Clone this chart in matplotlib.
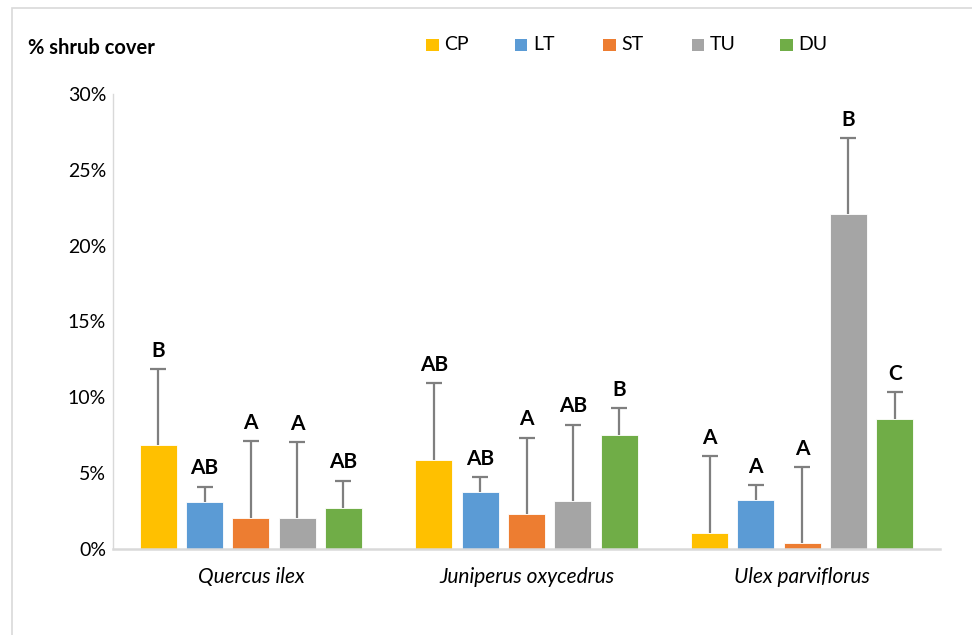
import matplotlib
matplotlib.use("Agg")
import matplotlib.pyplot as plt
import numpy as np
from matplotlib.patches import Rectangle
from matplotlib.ticker import FuncFormatter

plt.rcParams['font.family'] = ['Lato', 'DejaVu Sans']

species = ["Quercus ilex", "Juniperus oxycedrus", "Ulex parviflorus"]
treatments = ["CP", "LT", "ST", "TU", "DU"]
colors = ["#FFC000", "#5B9BD5", "#ED7D31", "#A5A5A5", "#70AD47"]

# mean shrub cover (%) per treatment, one value per species
cp = [6.85, 5.9, 1.05]
lt = [3.1, 3.75, 3.2]
st = [2.05, 2.3, 0.4]
tu = [2.05, 3.15, 22.1]
du = [2.7, 7.5, 8.55]
means = [cp, lt, st, tu, du]

# upper error (%)
cp_err = [5.0, 5.05, 5.05]
lt_err = [1.0, 1.0, 1.0]
st_err = [5.05, 5.05, 5.0]
tu_err = [5.0, 5.05, 5.0]
du_err = [1.8, 1.8, 1.8]
errors = [cp_err, lt_err, st_err, tu_err, du_err]

# significance letters
cp_lab = ["B", "AB", "A"]
lt_lab = ["AB", "AB", "A"]
st_lab = ["A", "A", "A"]
tu_lab = ["A", "AB", "B"]
du_lab = ["AB", "B", "C"]
letters = [cp_lab, lt_lab, st_lab, tu_lab, du_lab]

yticks = [0, 5, 10, 15, 20, 25, 30]

W, H = 972, 635
fig = plt.figure(figsize=(W / 100, H / 100), dpi=100)
ax = fig.add_axes([113 / W, 1 - 549 / H, (940 - 113) / W, (549 - 94) / H])

# outer chart frame
fig.patches.append(Rectangle((12 / W, -0.2), 1.2, 1.2 - 8 / H, transform=fig.transFigure,
                             fill=False, edgecolor="#D9D9D9", linewidth=1.2))

x = np.arange(len(species))
step = 0.168
width = 0.134
for i, (vals, errs, labs, c) in enumerate(zip(means, errors, letters, colors)):
    pos = x + (i - 2) * step
    vals = np.asarray(vals)
    errs = np.asarray(errs)
    ax.bar(pos, vals, width=width, color=c, edgecolor="white", linewidth=0.6,
           label=treatments[i], zorder=2)
    _, caps, _ = ax.errorbar(pos, vals, yerr=[np.zeros(len(vals)), errs], fmt="none",
                             ecolor="#7F7F7F", elinewidth=1.6, capsize=5.5,
                             capthick=1.6, zorder=3)
    # keep only the upper caps
    for cl in caps:
        if np.allclose(cl.get_ydata(), vals):
            cl.set_visible(False)
    for p, v, e, t in zip(pos, vals, errs, labs):
        ax.text(p, v + e + 0.55, t, ha="center", va="bottom", fontsize=15,
                fontweight="bold", color="black")

ax.set_xlim(-0.5, 2.5)
ax.set_ylim(0, 30)
ax.set_yticks(yticks)
ax.yaxis.set_major_formatter(FuncFormatter(lambda v, p: f"{v:.0f}%"))
ax.tick_params(axis="y", length=0, labelsize=14, pad=5)
ax.set_xticks(x)
ax.set_xticklabels(species, fontsize=15, style="italic")
ax.tick_params(axis="x", length=0, pad=13)

for s in ["top", "right"]:
    ax.spines[s].set_visible(False)
ax.spines["left"].set_color("#D9D9D9")
ax.spines["left"].set_linewidth(1.0)
ax.spines["bottom"].set_color("#D9D9D9")
ax.spines["bottom"].set_linewidth(1.8)

fig.text(28 / W, 1 - 48 / H, "% shrub cover", fontsize=14.5, fontweight="bold",
         ha="left", va="center")

# legend row: evenly spaced swatches with labels
leg_x0, leg_dx, leg_y, sw = 426, 88.5, 45, 12.5
for i, (name, c) in enumerate(zip(treatments, colors)):
    lx = leg_x0 + i * leg_dx
    fig.patches.append(Rectangle((lx / W, 1 - (leg_y + sw / 2) / H), sw / W, sw / H,
                                 transform=fig.transFigure, facecolor=c, edgecolor="none"))
    fig.text((lx + sw + 6) / W, 1 - leg_y / H, name, fontsize=14,
             ha="left", va="center")

fig.savefig("out.png", dpi=100)
